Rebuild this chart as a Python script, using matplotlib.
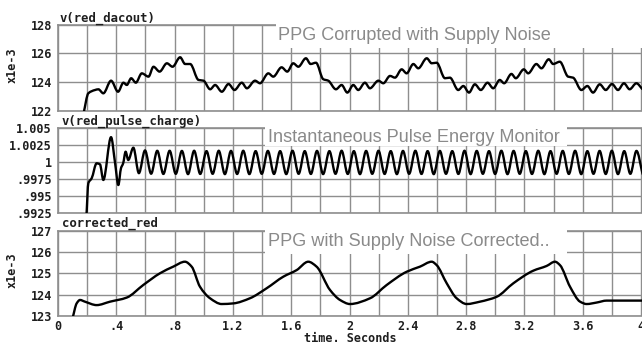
import numpy as np
import matplotlib
matplotlib.use("Agg")
import matplotlib.pyplot as plt
from matplotlib.path import Path
from matplotlib.patches import PathPatch, Rectangle

# ---------------- data ----------------
# v(red_dacout), x1e-3
dac_t = [0.175, 0.208, 0.254, 0.277, 0.311, 0.364, 0.412, 0.449, 0.472, 0.502,
         0.534, 0.575, 0.621, 0.655, 0.697, 0.747, 0.786, 0.838, 0.872, 0.907,
         0.964, 0.998, 1.044, 1.078, 1.124, 1.170, 1.211, 1.261, 1.296, 1.352,
         1.386, 1.443, 1.477, 1.534, 1.573, 1.614, 1.649, 1.701, 1.733, 1.770,
         1.820, 1.854, 1.907, 1.946, 1.985, 2.026, 2.060, 2.106, 2.140, 2.198,
         2.232, 2.278, 2.312, 2.358, 2.392, 2.438, 2.472, 2.530, 2.564, 2.598,
         2.655, 2.689, 2.746, 2.781, 2.820, 2.860, 2.901, 2.947, 2.986, 3.031,
         3.061, 3.111, 3.141, 3.196, 3.226, 3.282, 3.317, 3.367, 3.397, 3.443,
         3.500, 3.534, 3.591, 3.632, 3.671, 3.717, 3.758, 3.801, 3.842, 3.883,
         3.922, 3.968, 4.010]
dac_v = [121.80, 123.21, 123.44, 123.49, 123.21, 124.09, 123.32, 123.95, 123.79, 124.26,
         123.95, 124.60, 124.37, 125.06, 124.72, 125.30, 125.06, 125.72, 125.25, 125.25,
         124.14, 124.09, 123.49, 123.79, 123.32, 123.86, 123.44, 123.95, 123.56, 124.09,
         123.91, 124.60, 124.37, 125.02, 124.72, 125.30, 125.06, 125.65, 125.25, 125.34,
         124.19, 124.09, 123.49, 123.79, 123.26, 123.79, 123.44, 123.95, 123.56, 124.09,
         123.91, 124.42, 124.30, 124.88, 124.60, 125.25, 124.95, 125.65, 125.30, 125.34,
         124.26, 124.30, 123.44, 123.72, 123.26, 123.84, 123.44, 123.95, 123.56, 124.14,
         123.91, 124.56, 124.26, 124.88, 124.60, 125.25, 124.95, 125.58, 125.25, 125.41,
         124.37, 124.30, 123.44, 123.72, 123.26, 123.84, 123.44, 123.86, 123.44, 123.91,
         123.49, 123.91, 123.50]

# v(red_pulse_charge): start-up transient, then the steady ripple extremes
pulse_start_t = [0.195, 0.208, 0.231, 0.265, 0.288, 0.311, 0.364, 0.391, 0.414, 0.432,
                 0.447, 0.464, 0.482, 0.517, 0.555]
pulse_start_v = [0.99200, 0.99691, 0.99765, 0.99985, 0.99970, 0.99740, 1.00370, 0.99999,
                 0.99666, 0.99912, 0.99985, 1.00156, 1.00034, 1.00215, 0.99840]
pulse_peak_t = [0.597, 0.681, 0.766, 0.850, 0.934, 1.019, 1.103, 1.187, 1.271, 1.356,
                1.440, 1.524, 1.609, 1.693, 1.777, 1.862, 1.946, 2.030, 2.114, 2.199,
                2.283, 2.367, 2.452, 2.536, 2.620, 2.705, 2.789, 2.873, 2.957, 3.042,
                3.126, 3.210, 3.295, 3.379, 3.463, 3.548, 3.632, 3.716, 3.800, 3.885,
                3.969]
pulse_peak_v = [1.00175, 1.00170, 1.00170, 1.00168, 1.00170, 1.00165, 1.00170, 1.00168,
                1.00170, 1.00165, 1.00168, 1.00165, 1.00170, 1.00165, 1.00168, 1.00165,
                1.00170, 1.00165, 1.00168, 1.00170, 1.00165, 1.00168, 1.00170, 1.00165,
                1.00168, 1.00165, 1.00170, 1.00168, 1.00165, 1.00170, 1.00168, 1.00165,
                1.00170, 1.00165, 1.00168, 1.00170, 1.00165, 1.00168, 1.00170, 1.00165,
                1.00168]
pulse_trough_t = [0.639, 0.723, 0.808, 0.892, 0.976, 1.061, 1.145, 1.229, 1.313, 1.398,
                  1.482, 1.566, 1.651, 1.735, 1.819, 1.904, 1.988, 2.072, 2.156, 2.241,
                  2.325, 2.409, 2.494, 2.578, 2.662, 2.747, 2.831, 2.915, 2.999, 3.084,
                  3.168, 3.252, 3.337, 3.421, 3.505, 3.590, 3.674, 3.758, 3.842, 3.927,
                  4.011]
pulse_trough_v = [0.99832, 0.99828, 0.99830, 0.99826, 0.99828, 0.99830, 0.99826, 0.99828,
                  0.99826, 0.99830, 0.99828, 0.99826, 0.99830, 0.99828, 0.99826, 0.99830,
                  0.99828, 0.99826, 0.99830, 0.99828, 0.99826, 0.99830, 0.99828, 0.99826,
                  0.99830, 0.99828, 0.99826, 0.99830, 0.99828, 0.99826, 0.99830, 0.99828,
                  0.99826, 0.99830, 0.99828, 0.99826, 0.99830, 0.99828, 0.99826, 0.99830,
                  0.99828]

# corrected_red, x1e-3
corr_t = [0.100, 0.128, 0.151, 0.185, 0.265, 0.357, 0.471, 0.585, 0.700, 0.791,
          0.871, 0.917, 0.974, 1.043, 1.123, 1.203, 1.317, 1.432, 1.546, 1.638,
          1.717, 1.774, 1.866, 1.935, 2.003, 2.141, 2.255, 2.392, 2.484, 2.564,
          2.598, 2.667, 2.735, 2.804, 2.895, 3.010, 3.124, 3.261, 3.352, 3.410,
          3.444, 3.513, 3.582, 3.627, 3.696, 3.764, 3.856, 4.010]
corr_v = [122.90, 123.59, 123.75, 123.67, 123.51, 123.67, 123.86, 124.45, 125.00, 125.31,
          125.54, 125.31, 124.37, 123.83, 123.56, 123.59, 123.83, 124.30, 124.84, 125.15,
          125.54, 125.31, 124.22, 123.75, 123.56, 123.83, 124.45, 125.07, 125.31, 125.54,
          125.38, 124.53, 123.83, 123.56, 123.67, 123.90, 124.53, 125.12, 125.34, 125.54,
          125.38, 124.37, 123.67, 123.56, 123.63, 123.72, 123.72, 123.72]

x_ticks = [0.0, 0.2, 0.4, 0.6, 0.8, 1.0, 1.2, 1.4, 1.6, 1.8, 2.0,
           2.2, 2.4, 2.6, 2.8, 3.0, 3.2, 3.4, 3.6, 3.8, 4.0]
x_tick_labels = ["0", "", ".4", "", ".8", "", "1.2", "", "1.6", "", "2",
                 "", "2.4", "", "2.8", "", "3.2", "", "3.6", "", "4"]

dac_ticks = [122, 124, 126, 128]
dac_tick_labels = ["122", "124", "126", "128"]
pulse_ticks = [0.9925, 0.995, 0.9975, 1.0, 1.0025, 1.005]
pulse_tick_labels = [".9925", ".995", ".9975", "1", "1.0025", "1.005"]
corr_ticks = [123, 124, 125, 126, 127]
corr_tick_labels = ["123", "124", "125", "126", "127"]

panel_names = ["v(red_dacout)", "v(red_pulse_charge)", "corrected_red"]
panel_titles = ["PPG Corrupted with Supply Noise",
                "Instantaneous Pulse Energy Monitor",
                "PPG with Supply Noise Corrected.."]


# ---------------- helpers ----------------
def smooth_path(x, y):
    """Monotone cubic Bezier path through the given points."""
    x = np.asarray(x, float)
    y = np.asarray(y, float)
    h = np.diff(x)
    d = np.diff(y) / h
    m = np.zeros_like(y)
    m[0], m[-1] = d[0], d[-1]
    for k in range(1, len(y) - 1):
        if d[k - 1] * d[k] > 0:
            w1 = 2 * h[k] + h[k - 1]
            w2 = h[k] + 2 * h[k - 1]
            m[k] = (w1 + w2) / (w1 / d[k - 1] + w2 / d[k])
    verts = [(x[0], y[0])]
    codes = [Path.MOVETO]
    for k in range(len(x) - 1):
        verts += [(x[k] + h[k] / 3, y[k] + m[k] * h[k] / 3),
                  (x[k + 1] - h[k] / 3, y[k + 1] - m[k + 1] * h[k] / 3),
                  (x[k + 1], y[k + 1])]
        codes += [Path.CURVE4] * 3
    return Path(verts, codes)


W, H = 642, 349
mono = "DejaVu Sans Mono"
grid_col = "#8e8e8e"
text_col = "#1e1e1e"

fig = plt.figure(figsize=(W / 100, H / 100), dpi=100)
fig.patch.set_facecolor("white")


def px_axes(top, bottom):
    left, right = 58, 642
    return fig.add_axes([left / W, 1 - bottom / H, (right - left) / W, (bottom - top) / H])


ax1 = px_axes(24.5, 110.7)
ax2 = px_axes(128.3, 213.3)
ax3 = px_axes(230.5, 316.0)

x_max = 4.0 * 584 / 583

configs = [
    (ax1, (122, 128), dac_ticks, dac_tick_labels),
    (ax2, (0.9925, 1.005), pulse_ticks, pulse_tick_labels),
    (ax3, (123, 127), corr_ticks, corr_tick_labels),
]
for ax, ylim, yt, ytl in configs:
    ax.set_xlim(0, x_max)
    ax.set_ylim(*ylim)
    ax.set_xticks(x_ticks)
    ax.set_yticks(yt)
    ax.set_yticklabels(ytl)
    ax.grid(True, color=grid_col, lw=1.0)
    ax.set_axisbelow(True)
    for side in ("left", "bottom", "top"):
        ax.spines[side].set_color(grid_col)
        ax.spines[side].set_linewidth(1.2)
    ax.spines["right"].set_visible(False)
    ax.tick_params(length=0, pad=4.5, labelsize=8.5, labelcolor=text_col)
    for lab in ax.get_yticklabels():
        lab.set_fontfamily(mono)
        lab.set_fontweight("bold")

for ax in (ax1, ax2):
    ax.tick_params(labelbottom=False)
ax3.set_xticklabels(x_tick_labels)
ax3.tick_params(axis="x", pad=3)
for lab in ax3.get_xticklabels():
    lab.set_fontfamily(mono)
    lab.set_fontweight("bold")

# waveforms
line_kw = dict(fill=False, edgecolor="black", lw=1.7, zorder=3, capstyle="round", joinstyle="round")
ax1.add_patch(PathPatch(smooth_path(dac_t, dac_v), **line_kw))

pulse_t = np.concatenate([pulse_start_t, pulse_peak_t, pulse_trough_t])
pulse_v = np.concatenate([pulse_start_v, pulse_peak_v, pulse_trough_v])
order = np.argsort(pulse_t)
ax2.add_patch(PathPatch(smooth_path(pulse_t[order], pulse_v[order]), **line_kw))

ax3.add_patch(PathPatch(smooth_path(corr_t, corr_v), **line_kw))

# signal names above each panel
name_pos = [(60, 18), (62, 121), (62, 223)]
for name, (x, y) in zip(panel_names, name_pos):
    fig.text(x / W, 1 - y / H, name, family=mono, weight="bold", size=8.8,
             color=text_col, va="center", ha="left")

# y scale labels
for y in (65, 270):
    fig.text(12 / W, 1 - y / H, "x1e-3", family=mono, weight="bold", size=8.5,
             color=text_col, rotation=90, va="center", ha="center")

fig.text(350 / W, 1 - 339 / H, "time. Seconds", family=mono, weight="bold", size=8.5,
         color=text_col, va="center", ha="center")

# title captions on white backing
boxes = [(276, 20, 642, 47.5), (265, 124, 567, 146), (265, 226, 567, 254)]
for (x0, y0, x1, y1) in boxes:
    fig.add_artist(Rectangle((x0 / W, 1 - y1 / H), (x1 - x0) / W, (y1 - y0) / H,
                             transform=fig.transFigure, facecolor="white",
                             edgecolor="none", zorder=1))
title_pos = [(278, 35), (268, 137.5), (268, 242)]
for title, (x, y) in zip(panel_titles, title_pos):
    fig.text(x / W, 1 - y / H, title, family="Liberation Sans", size=13.1,
             color="#8a8a8a", va="center", ha="left", zorder=2)

fig.savefig("out.png", dpi=100, facecolor="white")
